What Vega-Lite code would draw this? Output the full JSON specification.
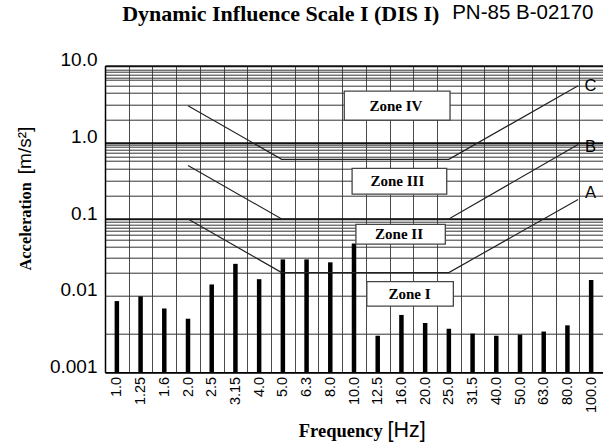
{
  "$schema": "https://vega.github.io/schema/vega-lite/v6.json",
  "width": 498,
  "height": 306.6,
  "autosize": "none",
  "padding": {"left": 105, "top": 65.7, "right": 0, "bottom": 69.7},
  "background": "white",
  "config": {"view": {"stroke": null}, "axis": {"titleColor": "#000", "labelColor": "#000"}},
  "datasets": {
    "bars": [
      {"freq": "1.0", "acc": 0.0085},
      {"freq": "1.25", "acc": 0.0098},
      {"freq": "1.6", "acc": 0.0068},
      {"freq": "2.0", "acc": 0.0050},
      {"freq": "2.5", "acc": 0.0140},
      {"freq": "3.15", "acc": 0.026},
      {"freq": "4.0", "acc": 0.0164},
      {"freq": "5.0", "acc": 0.0297},
      {"freq": "6.3", "acc": 0.0297},
      {"freq": "8.0", "acc": 0.0272},
      {"freq": "10.0", "acc": 0.048},
      {"freq": "12.5", "acc": 0.0030},
      {"freq": "16.0", "acc": 0.0056},
      {"freq": "20.0", "acc": 0.0044},
      {"freq": "25.0", "acc": 0.0037},
      {"freq": "31.5", "acc": 0.0032},
      {"freq": "40.0", "acc": 0.0030},
      {"freq": "50.0", "acc": 0.0031},
      {"freq": "63.0", "acc": 0.0034},
      {"freq": "80.0", "acc": 0.0041},
      {"freq": "100.0", "acc": 0.016}
    ],
    "zones": [
      {"zone": "C", "u": 3.5, "a": 3.0},
      {"zone": "C", "u": 7.45, "a": 0.6},
      {"zone": "C", "u": 14.5, "a": 0.6},
      {"zone": "C", "u": 19.95, "a": 5.47},
      {"zone": "B", "u": 3.5, "a": 0.5},
      {"zone": "B", "u": 7.45, "a": 0.1},
      {"zone": "B", "u": 14.5, "a": 0.1},
      {"zone": "B", "u": 19.95, "a": 0.94},
      {"zone": "A", "u": 3.5, "a": 0.1},
      {"zone": "A", "u": 7.45, "a": 0.02},
      {"zone": "A", "u": 14.5, "a": 0.02},
      {"zone": "A", "u": 19.95, "a": 0.18}
    ],
    "letters": [
      {"label": "C", "u": 20.47, "a": 5.48},
      {"label": "B", "u": 20.47, "a": 0.86},
      {"label": "A", "u": 20.47, "a": 0.219}
    ],
    "boxes": [
      {"zone": "Zone IV", "u": 10.09, "u2": 14.55, "a": 1.95, "a2": 4.66},
      {"zone": "Zone III", "u": 10.42, "u2": 14.41, "a": 0.211, "a2": 0.457},
      {"zone": "Zone II", "u": 10.58, "u2": 14.35, "a": 0.047, "a2": 0.0851},
      {"zone": "Zone I", "u": 11.04, "u2": 14.69, "a": 0.00731, "a2": 0.0152}
    ],
    "boxlabels": [
      {"label": "Zone IV", "u": 12.27, "a": 3.0},
      {"label": "Zone III", "u": 12.33, "a": 0.312},
      {"label": "Zone II", "u": 12.40, "a": 0.0635},
      {"label": "Zone I", "u": 12.84, "a": 0.0105}
    ]
  },
  "layer": [
    {
      "data": {"name": "bars"},
      "mark": {"type": "rule", "strokeWidth": 4.5, "color": "#000"},
      "encoding": {
        "x": {
          "field": "freq", "type": "ordinal", "sort": null,
          "scale": {"type": "band", "paddingInner": 0, "paddingOuter": 0},
          "axis": {
            "orient": "bottom",
            "labelAngle": 270, "labelFont": "Liberation Sans", "labelFontSize": 14.5, "labelPadding": 4,
            "ticks": false, "tickSize": 0, "domain": true, "domainColor": "#000", "domainWidth": 1.5,
            "grid": true, "gridColor": "#4a4a4a", "gridWidth": 1, "tickBand": "extent",
            "title": "Frequency", "titleFont": "Liberation Serif", "titleFontWeight": "bold", "titleFontSize": 18.5,
            "titleX": 193.3, "titleY": 64.4, "titleAlign": "left", "titleBaseline": "alphabetic", "titleAngle": 0
          }
        },
        "y": {
          "field": "acc", "type": "quantitative",
          "scale": {"type": "log", "domain": [0.001, 10], "nice": false},
          "axis": {
            "orient": "left",
            "values": [0.001, 0.00316, 0.01, 0.02, 0.031, 0.0435, 0.053, 0.062, 0.0696, 0.077, 0.085, 0.092, 0.1, 0.2, 0.316, 0.45, 0.57, 0.65, 0.73, 0.8, 0.866, 0.92, 1, 2, 3.14, 4.5, 5.45, 6.5, 7.06, 7.7, 8.35, 8.97, 10],
            "labelExpr": "indexof([0.001,0.01,0.1], datum.value) >= 0 ? datum.value + '' : (indexof([1,10], datum.value) >= 0 ? format(datum.value, '.1f') : '')",
            "labelOverlap": false, "labelBound": false, "labelFlush": false,
            "labelFont": "Liberation Sans", "labelFontSize": 19, "labelBaseline": "alphabetic", "labelPadding": 8,
            "ticks": false, "tickSize": 0, "domain": true, "domainColor": "#000", "domainWidth": 1.5,
            "grid": true,
            "gridColor": {"condition": {"test": "indexof([0.1,1,10], datum.value) >= 0", "value": "#111"}, "value": "#333"},
            "gridWidth": {"condition": {"test": "indexof([0.1,1,10], datum.value) >= 0", "value": 2}, "value": 1},
            "title": "Acceleration", "titleFont": "Liberation Serif", "titleFontWeight": "bold", "titleFontSize": 16.4,
            "titleX": -75, "titleY": 204.3, "titleAlign": "left", "titleBaseline": "alphabetic", "titleAngle": 270
          }
        },
        "y2": {"datum": 0.001}
      }
    },
    {
      "encoding": {
        "x": {
          "field": "u", "type": "quantitative",
          "scale": {"domain": [0, 21], "nice": false, "zero": false},
          "axis": {
            "orient": "top", "labels": false, "ticks": false, "domain": false, "grid": false,
            "title": "PN-85 B-02170", "titleFont": "Liberation Sans", "titleFontWeight": "normal", "titleFontSize": 20.5,
            "titleX": 346.7, "titleY": -47.2, "titleAlign": "left", "titleBaseline": "alphabetic", "titleAngle": 0
          }
        },
        "y": {
          "field": "a", "type": "quantitative",
          "scale": {"type": "log", "domain": [0.001, 10], "nice": false},
          "axis": {
            "orient": "left", "labels": false, "ticks": false, "domain": false, "grid": false,
            "title": "[m/s²]", "titleFont": "Liberation Sans", "titleFontWeight": "normal", "titleFontSize": 19,
            "titleX": -75, "titleY": 108, "titleAlign": "left", "titleBaseline": "alphabetic", "titleAngle": 270
          }
        }
      },
      "layer": [
        {
          "data": {"name": "zones"},
          "mark": {"type": "line", "color": "#222", "strokeWidth": 1.2},
          "encoding": {"detail": {"field": "zone"}}
        },
        {
          "data": {"name": "letters"},
          "mark": {"type": "text", "font": "Liberation Sans", "fontSize": 16.5, "color": "#000", "align": "center", "baseline": "middle"},
          "encoding": {"text": {"field": "label"}}
        }
      ]
    },
    {
      "encoding": {
        "x": {
          "field": "u", "type": "quantitative",
          "scale": {"domain": [0, 21], "nice": false, "zero": false},
          "axis": {
            "orient": "bottom", "labels": false, "ticks": false, "domain": false, "grid": false,
            "title": "[Hz]", "titleFont": "Liberation Sans", "titleFontWeight": "normal", "titleFontSize": 21.5,
            "titleX": 282, "titleY": 64.4, "titleAlign": "left", "titleBaseline": "alphabetic", "titleAngle": 0
          }
        },
        "y": {
          "field": "a", "type": "quantitative",
          "scale": {"type": "log", "domain": [0.001, 10], "nice": false},
          "axis": {
            "orient": "right", "labels": false, "ticks": false, "domain": false, "grid": false,
            "title": "Dynamic Influence Scale I (DIS I)", "titleFont": "Liberation Serif", "titleFontWeight": "bold", "titleFontSize": 22,
            "titleX": -481.3, "titleY": -45, "titleAlign": "left", "titleBaseline": "alphabetic", "titleAngle": 0
          }
        }
      },
      "layer": [
        {
          "data": {"name": "boxes"},
          "mark": {"type": "rect", "fill": "white", "stroke": "#444", "strokeWidth": 1.3},
          "encoding": {"x2": {"field": "u2"}, "y2": {"field": "a2"}}
        },
        {
          "data": {"name": "boxlabels"},
          "mark": {"type": "text", "font": "Liberation Serif", "fontWeight": "bold", "fontSize": 15, "color": "#000", "align": "center", "baseline": "middle"},
          "encoding": {"text": {"field": "label"}}
        }
      ]
    }
  ],
  "resolve": {"scale": {"x": "independent", "y": "independent"}}
}
